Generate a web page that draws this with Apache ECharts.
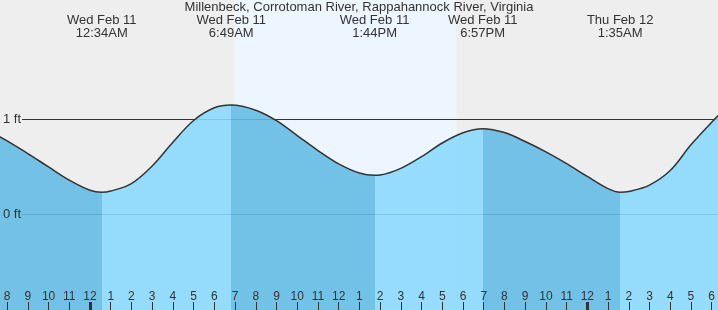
<!DOCTYPE html>
<html>
<head>
<meta charset="utf-8">
<script src="https://cdn.jsdelivr.net/npm/echarts@6/dist/echarts.min.js"></script>
<style>
    html, body { margin: 0; padding: 0; background: #eeeeee; }
    #chart { width: 718px; height: 310px; }
</style>
</head>
<body>
<div id="chart"></div>
<script>
// time in hours from midnight Wed Feb 11, height in ft
var tideTimes = [-4.5, -4, -3, -2, -1, 0, 0.567, 1, 2, 3, 4, 5, 6, 6.817, 8, 9, 10, 11, 12, 13, 13.733, 14, 15, 16, 17, 18, 18.95, 20, 21, 22, 23, 24, 25, 25.583, 26, 27, 28, 29, 30, 30.5];
var tideHeights = [0.835, 0.772, 0.640, 0.500, 0.362, 0.256, 0.234, 0.247, 0.326, 0.510, 0.759, 0.987, 1.120, 1.149, 1.095, 0.985, 0.829, 0.672, 0.532, 0.436, 0.412, 0.415, 0.485, 0.607, 0.751, 0.858, 0.901, 0.861, 0.766, 0.658, 0.535, 0.400, 0.272, 0.234, 0.242, 0.310, 0.462, 0.732, 0.969, 1.076];

var extremeTimes = [0.567, 6.817, 13.733, 18.95, 25.583];
var extremeTypes = ['L', 'H', 'L', 'H', 'L'];
var extremeDays = ['Wed Feb 11', 'Wed Feb 11', 'Wed Feb 11', 'Wed Feb 11', 'Thu Feb 12'];
var extremeClock = ['12:34AM', '6:49AM', '1:44PM', '6:57PM', '1:35AM'];

var sunrise = 6.96;
var sunset = 17.69;

var hourTicks = [];
for (var h = -4; h <= 30; h++) hourTicks.push(h);
var midnightTicks = [0, 24];
var ftTicks = [0, 1];

var xMin = -4.343, xMax = 30.19;
var lightBlue = '#8ad9fe';
var darkBlue = '#62bbe5';

;
(function() {
    var chart = echarts.init(document.getElementById('chart'));

    var tideData = [];
    for (var i = 0; i < tideTimes.length; i++) {
        tideData.push([tideTimes[i], tideHeights[i]]);
    }

    // falling tide = dark band, rising tide = light band
    var pieces = [{ lt: extremeTimes[0], color: extremeTypes[0] === 'L' ? darkBlue : lightBlue }];
    for (var j = 0; j < extremeTimes.length; j++) {
        var p = { gte: extremeTimes[j], color: extremeTypes[j] === 'L' ? lightBlue : darkBlue };
        if (j < extremeTimes.length - 1) p.lt = extremeTimes[j + 1];
        pieces.push(p);
    }

    var font = 'Liberation Sans, Arial, sans-serif';

    chart.setOption({
        backgroundColor: '#eeeeee',
        animation: false,
        title: {
            text: 'Millenbeck, Corrotoman River, Rappahannock River, Virginia',
            left: 'center',
            top: 0,
            padding: 0,
            z: 20,
            textStyle: { fontSize: 13, fontWeight: 'normal', color: '#333', fontFamily: font, lineHeight: 15 }
        },
        grid: [
            { left: 0, right: 0, top: 0, bottom: 0 },
            { left: 22, right: 0, top: 0, bottom: 0 }
        ],
        xAxis: [{
            type: 'value', gridIndex: 0, min: xMin, max: xMax, position: 'bottom', offset: 0, z: 20,
            axisLine: { show: false, onZero: false },
            splitLine: { show: false },
            axisTick: { inside: true, length: 8, customValues: hourTicks, lineStyle: { color: '#333' } },
            axisLabel: {
                inside: true, margin: 7, customValues: hourTicks,
                fontSize: 12, color: '#333', fontFamily: font,
                formatter: function(v) {
                    var hr = ((v % 12) + 12) % 12;
                    return hr === 0 ? '12' : String(hr);
                }
            }
        }, {
            type: 'value', gridIndex: 0, min: xMin, max: xMax, position: 'bottom', offset: 0, z: 20,
            axisLine: { show: false, onZero: false },
            splitLine: { show: false },
            axisTick: { inside: true, length: 8, customValues: midnightTicks, lineStyle: { color: '#333', width: 3 } },
            axisLabel: { show: false }
        }, {
            type: 'value', gridIndex: 0, min: xMin, max: xMax, position: 'top', offset: 0, z: 20,
            axisLine: { show: false, onZero: false },
            splitLine: { show: false },
            axisTick: { show: false },
            axisLabel: {
                inside: true, margin: 14, customValues: extremeTimes,
                fontSize: 13, lineHeight: 13, color: '#333', fontFamily: font,
                formatter: function(v) {
                    var k = extremeTimes.indexOf(v);
                    return k < 0 ? '' : extremeDays[k] + '\n' + extremeClock[k];
                }
            }
        }, {
            type: 'value', gridIndex: 1, min: xMin, max: xMax, show: false
        }],
        yAxis: [{
            type: 'value', gridIndex: 0, min: -1, max: 2.25, z: 20,
            axisLine: { show: false, onZero: false },
            axisTick: { show: false },
            splitLine: { show: false },
            axisLabel: {
                inside: true, margin: 3, customValues: ftTicks,
                fontSize: 13, color: '#333', fontFamily: font,
                formatter: function(v) { return v + ' ft'; }
            }
        }, {
            type: 'value', gridIndex: 1, min: -1, max: 2.25, show: false
        }],
        visualMap: {
            type: 'piecewise', show: false, seriesIndex: 2, dimension: 0,
            pieces: pieces
        },
        series: [{
            type: 'line', xAxisIndex: 0, yAxisIndex: 0, data: [], z: 0, silent: true,
            markArea: {
                silent: true, z: 0,
                itemStyle: { color: '#edf5fe' },
                data: [[{ xAxis: sunrise }, { xAxis: sunset }]]
            }
        }, {
            type: 'line', xAxisIndex: 3, yAxisIndex: 1, data: [], z: 1, silent: true,
            markLine: {
                silent: true, symbol: 'none', z: 1,
                label: { show: false },
                lineStyle: { color: '#333', width: 1, type: 'solid' },
                data: ftTicks.map(function(v) { return { yAxis: v }; })
            }
        }, {
            type: 'line', xAxisIndex: 0, yAxisIndex: 0, z: 3,
            data: tideData,
            smooth: 0.35,
            symbol: 'none',
            silent: true,
            lineStyle: { color: '#333', width: 1.5 },
            areaStyle: { origin: 'start', opacity: 0.88 }
        }]
    });
})();
</script>
</body>
</html>
